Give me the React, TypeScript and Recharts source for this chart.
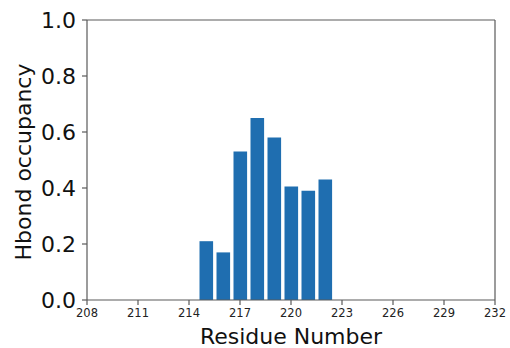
import { BarChart, Bar, XAxis, YAxis, ReferenceLine, Label } from "recharts";

// Hydrogen-bond occupancy per residue
const residues = [215, 216, 217, 218, 219, 220, 221, 222];
const occupancy = [0.21, 0.17, 0.53, 0.65, 0.58, 0.405, 0.39, 0.43];

const xTicks = [208, 211, 214, 217, 220, 223, 226, 229, 232];
const yTicks = [0, 0.2, 0.4, 0.6, 0.8, 1.0];

const data = residues.map((r, i) => ({ residue: r, occupancy: occupancy[i] }));

const FONT = "'DejaVu Sans', sans-serif";
const SPINE = "#5a5a5a";
const BAR_COLOR = "#1f6eb0";

export default function App() {
  return (
    <div style={{ position: "absolute", left: 0, top: 0, width: 510, height: 348, background: "#fff" }}>
      <BarChart
        width={510}
        height={348}
        data={data}
        margin={{ top: 20, right: 15, bottom: 0, left: 0 }}
        style={{ fontFamily: FONT }}
      >
        <XAxis
          dataKey="residue"
          type="number"
          domain={[208, 232]}
          ticks={xTicks}
          interval={0}
          height={48}
          tickSize={5}
          tickMargin={4}
          tick={{ fill: "#222", fontSize: 11.5, fontFamily: FONT }}
          stroke={SPINE}
          strokeWidth={1.2}
        >
          <Label
            content={() => (
              <text x={291} y={344} textAnchor="middle" fontSize={22} fontFamily={FONT} fill="#111">
                Residue Number
              </text>
            )}
          />
        </XAxis>
        <YAxis
          type="number"
          domain={[0, 1]}
          ticks={yTicks}
          interval={0}
          width={87}
          tickSize={5}
          tickMargin={6}
          tickFormatter={(v: number) => v.toFixed(1)}
          tick={{ fill: "#111", fontSize: 22, fontFamily: FONT }}
          stroke={SPINE}
          strokeWidth={1.2}
        >
          <Label
            content={() => (
              <text
                x={30.5}
                y={162}
                transform="rotate(-90 30.5 162)"
                textAnchor="middle"
                fontSize={22}
                fontFamily={FONT}
                fill="#111"
              >
                Hbond occupancy
              </text>
            )}
          />
        </YAxis>
        <ReferenceLine y={1} stroke={SPINE} strokeWidth={1.2} />
        <ReferenceLine x={232} stroke={SPINE} strokeWidth={1.2} />
        <Bar dataKey="occupancy" fill={BAR_COLOR} barSize={13.6} isAnimationActive={false} />
      </BarChart>
    </div>
  );
}
